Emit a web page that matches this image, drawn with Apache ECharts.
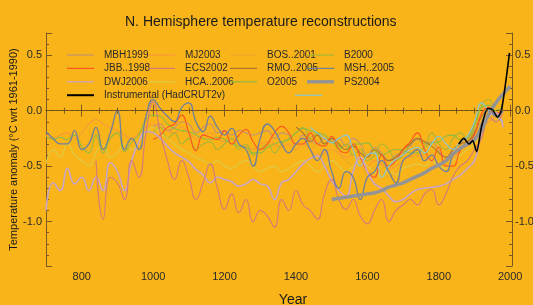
<!DOCTYPE html>
<html>
<head>
<meta charset="utf-8">
<script src="https://cdn.jsdelivr.net/npm/echarts@6/dist/echarts.min.js"></script>
<style>
html, body { margin: 0; padding: 0; background: #f9b419; }
#g-echart { width: 533px; height: 305px; }
</style>
</head>
<body>
<div id="g-echart"></div>
<script>
// sample years (20-yr steps)
var years = [700,720,740,760,780,800,820,840,860,880,900,920,940,960,980,
    1000,1020,1040,1060,1080,1100,1120,1140,1160,1180,1200,1220,1240,1260,1280,
    1300,1320,1340,1360,1380,1400,1420,1440,1460,1480,1500,1520,1540,1560,1580,
    1600,1620,1640,1660,1680,1700,1720,1740,1760,1780,1800,1820,1840,1860,1880,
    1900,1920,1940,1960,1980,2000];

// each reconstruction: values from its first year on
var mbh1999 = [-0.15,-0.12,-0.18,-0.15,-0.1,-0.12,-0.2,-0.15,-0.12,-0.2,
    -0.18,-0.22,-0.18,-0.2,-0.22,-0.2,-0.18,-0.25,-0.2,-0.22,
    -0.3,-0.22,-0.26,-0.3,-0.25,-0.28,-0.25,-0.32,-0.25,-0.3,
    -0.4,-0.33,-0.38,-0.45,-0.4,-0.38,-0.32,-0.26,-0.3,-0.28,
    -0.36,-0.42,-0.35,-0.3,-0.25,-0.18,-0.1,0.0,-0.05,0.1];
var mj2003 = [-0.22,-0.25,-0.22,-0.2,-0.25,-0.2,-0.12,-0.08,-0.12,-0.15,
    -0.18,-0.22,-0.25,-0.2,-0.15,-0.12,-0.15,-0.18,-0.2,-0.15,
    -0.2,-0.25,-0.22,-0.2,-0.25,-0.28,-0.25,-0.3,-0.32,-0.35,
    -0.3,-0.28,-0.3,-0.33,-0.3,-0.35,-0.3,-0.35,-0.4,-0.38,
    -0.35,-0.38,-0.42,-0.4,-0.45,-0.5,-0.45,-0.48,-0.52,-0.5,
    -0.45,-0.42,-0.4,-0.42,-0.45,-0.5,-0.55,-0.45,-0.35,-0.3,
    -0.25,-0.15,-0.1,-0.05,0.0];
var bos2001 = [-0.3,-0.25,-0.35,-0.3,-0.4,-0.35,-0.4,-0.45,-0.5,-0.45,
    -0.6,-0.5,-0.55,-0.6,-0.55,-0.45,-0.4,-0.35,-0.4,-0.38,
    -0.5,-0.55,-0.4,-0.3,-0.32,-0.2,-0.05,0.05,-0.1,-0.05];
var b2000 = [-0.2,-0.15,-0.25,-0.2,-0.3,-0.25,-0.35,-0.3,-0.28,-0.35,
    -0.3,-0.25,-0.35,-0.3,-0.4,-0.35,-0.3,-0.38,-0.3,-0.25,
    -0.2,-0.15,-0.25,-0.2,-0.3,-0.25,-0.35,-0.3,-0.4,-0.35,
    -0.45,-0.4,-0.3,-0.35,-0.45,-0.4,-0.3,-0.25,-0.3,-0.2,
    -0.3,-0.35,-0.25,-0.2,-0.25,-0.15,0.05,0.1,-0.05,-0.1];
var jbb1998 = [-0.26,-0.22,-0.15,-0.12,-0.04,-0.2,-0.36,-0.22,-0.24,-0.26,
    -0.18,-0.3,-0.22,-0.17,-0.28,-0.35,-0.3,-0.2,-0.14,-0.2,
    -0.3,-0.3,-0.2,-0.3,-0.32,-0.23,-0.35,-0.38,-0.3,-0.42,
    -0.55,-0.6,-0.4,-0.5,-0.45,-0.35,-0.28,-0.2,-0.35,-0.45,
    -0.33,-0.5,-0.5,-0.36,-0.3,-0.22,-0.02,0.03,-0.02,0.0];
var ecs2002 = [-0.45,-0.98,-0.6,-0.65,-0.8,-0.45,-0.6,-0.2,
    0.08,-0.2,-0.45,-0.62,-0.45,-0.6,-0.8,-0.65,-0.48,-0.7,
    -0.89,-0.75,-0.92,-0.8,-1.0,-0.9,-0.95,-1.05,-0.8,-0.9,
    -0.72,-0.85,-0.9,-0.98,-0.75,-0.62,-0.8,-0.89,-0.8,-0.95,
    -1.02,-0.9,-0.8,-1.0,-0.9,-0.85,-0.8,-0.85,-0.75,-0.71,
    -0.85,-0.75,-0.59,-0.5,-0.45,-0.35,-0.25,-0.05,-0.1,0.0];
var rmo2005 = [-0.15,-0.2,-0.28,-0.22,-0.3,-0.25,-0.3,-0.35,-0.32,-0.38,
    -0.42,-0.35,-0.4,-0.45,-0.42,-0.35,-0.3,-0.25,-0.28,-0.32,
    -0.38,-0.42,-0.35,-0.3,-0.28,-0.2,-0.05,0.0,-0.05,0.02];
var msh2005 = [-0.19,-0.25,-0.3,-0.3,-0.18,-0.35,-0.3,-0.15,-0.35,-0.2,
    0.0,-0.35,-0.25,-0.35,-0.05,0.1,0.02,-0.05,-0.1,0.03,
    0.07,-0.1,-0.19,-0.05,-0.15,-0.22,-0.16,-0.3,-0.35,-0.5,
    -0.25,-0.12,-0.18,-0.3,-0.38,-0.3,-0.25,-0.35,-0.45,-0.35,
    -0.55,-0.7,-0.55,-0.6,-0.8,-0.6,-0.55,-0.45,-0.55,-0.65,
    -0.45,-0.4,-0.35,-0.45,-0.4,-0.5,-0.55,-0.4,-0.35,-0.3,
    -0.25,-0.12,0.02,-0.05,0.0];
var dwj2006 = [-0.9,-0.65,-0.72,-0.52,-0.66,-0.6,-0.72,-0.6,-0.72,-0.47,
    -0.55,-0.72,-0.45,-0.28,-0.19,-0.2,-0.25,-0.32,-0.38,-0.42,
    -0.46,-0.53,-0.58,-0.65,-0.6,-0.62,-0.64,-0.68,-0.66,-0.62,
    -0.66,-0.68,-0.8,-0.65,-0.62,-0.55,-0.48,-0.43,-0.41,-0.5,
    -0.63,-0.72,-0.77,-0.55,-0.42,-0.55,-0.66,-0.7,-0.77,-0.82,
    -0.8,-0.75,-0.71,-0.7,-0.69,-0.68,-0.66,-0.62,-0.58,-0.52,
    -0.45,-0.2,-0.05,-0.02,-0.15];
var hca2006 = [-0.48,-0.35,-0.42,-0.3,-0.4,-0.45,-0.5,-0.38,-0.3,-0.42,
    -0.38,-0.3,-0.35,-0.28,-0.2,-0.15,-0.2,-0.25,-0.3,-0.35,
    -0.38,-0.42,-0.45,-0.48,-0.45,-0.5,-0.52,-0.48,-0.45,-0.5,
    -0.55,-0.52,-0.5,-0.55,-0.52,-0.48,-0.45,-0.5,-0.55,-0.5,
    -0.45,-0.5,-0.55,-0.5,-0.45,-0.5,-0.55,-0.6,-0.55,-0.58,
    -0.52,-0.5,-0.48,-0.5,-0.45,-0.5,-0.52,-0.45,-0.4,-0.35,
    -0.3,-0.15,-0.05,-0.1,0.0];
var o2005 = [-0.23,-0.26,-0.24,-0.26,-0.22,-0.32,-0.38,-0.22,-0.38,-0.25,
    -0.2,-0.37,-0.28,-0.22,-0.08,-0.04,-0.05,-0.12,-0.16,-0.18,
    -0.19,-0.22,-0.25,-0.26,-0.24,-0.26,-0.3,-0.32,-0.33,-0.38,
    -0.38,-0.33,-0.3,-0.28,-0.26,-0.2,-0.16,-0.18,-0.2,-0.22,
    -0.28,-0.32,-0.35,-0.3,-0.3,-0.29,-0.36,-0.4,-0.37,-0.35,
    -0.36,-0.38,-0.38,-0.33,-0.29,-0.28,-0.23,-0.22,-0.26,-0.24,
    -0.12,0.03,0.05,0.0,0.05];
var ps2004 = [-0.8,-0.79,-0.78,-0.77,-0.76,-0.75,-0.74,-0.72,-0.69,-0.67,
    -0.65,-0.62,-0.59,-0.56,-0.52,-0.49,-0.45,-0.39,-0.34,-0.3,
    -0.26,-0.17,-0.03,0.07,0.15,0.22];
var cyanRec = [-0.15,-0.2,-0.25,-0.29,-0.25,-0.22,-0.35,-0.5,-0.4,-0.38,
    -0.6,-0.5,-0.44,-0.4,-0.35,-0.33,-0.38,-0.3,-0.23,-0.3,
    -0.35,-0.28,-0.23,-0.1,0.07,0.0,-0.05,-0.1];

// instrumental record
var instYears = [1856,1870,1885,1895,1906,1920,1937,1950,1965,1975,1985,1998];
var instVals = [-0.3,-0.25,-0.3,-0.27,-0.37,-0.14,0.02,0.01,-0.06,0.0,0.2,0.52];

var yLabels = ['0.5', '0.0', '-0.5', '-1.0'];
var xLabels = [800, 1000, 1200, 1400, 1600, 1800, 2000];

function pairs(start, vals) {
    var i0 = years.indexOf(start);
    return vals.map(function (v, i) { return [years[i0 + i], v]; });
}

var axisColor = '#7a5a22';
var txtColor = '#2a2a2a';
var font = 'Liberation Sans';

var chart = echarts.init(document.getElementById('g-echart'));

function rec(name, start, vals, color, width) {
    return {
        name: name,
        type: 'line',
        smooth: 0.5,
        symbol: 'none',
        lineStyle: {width: width || 1.1, color: color},
        itemStyle: {color: color},
        data: pairs(start, vals)
    };
}

var thin = 'path://M0,0H40V1.8H0Z';
function legendBox(left, top, names) {
    return {
        orient: 'vertical',
        left: left,
        top: top,
        padding: 0,
        itemGap: 0,
        itemWidth: 27,
        itemHeight: 13.4,
        selectedMode: false,
        icon: thin,
        textStyle: {fontFamily: font, fontSize: 10, color: txtColor, lineHeight: 13.4, padding: [0, 0, 0, 5]},
        data: names
    };
}

var minorX = function (pos) {
    return {type: 'value', min: 700, max: 2005, interval: 50, position: pos,
        axisLine: {show: false}, axisTick: {inside: true, length: 3, lineStyle: {color: axisColor}},
        axisLabel: {show: false}, splitLine: {show: false}};
};
var minorY = function (pos) {
    return {type: 'value', min: -1.4, max: 0.7, interval: 0.1, position: pos,
        axisLine: {show: false}, axisTick: {inside: true, length: 3, lineStyle: {color: axisColor}},
        axisLabel: {show: false}, splitLine: {show: false}};
};
function yFmt(v) {
    var s = v.toFixed(1);
    return yLabels.indexOf(s) >= 0 ? s : '';
}
function xFmt(v) {
    return xLabels.indexOf(v) >= 0 ? String(v) : '';
}

var option = {
    animation: false,
    backgroundColor: '#f9b419',
    textStyle: {fontFamily: font},
    title: {
        text: 'N. Hemisphere temperature reconstructions',
        left: 120,
        top: 10,
        textStyle: {fontFamily: font, fontSize: 14, fontWeight: 'normal', color: '#1a1a1a'}
    },
    grid: {left: 46, right: 21, top: 33, bottom: 39, containLabel: false, outerBoundsMode: 'none'},
    legend: [
        legendBox(67, 48.3, ['MBH1999', 'JBB..1998', 'DWJ2006',
            {name: 'Instrumental (HadCRUT2v)', icon: 'path://M0,0H40V3H0Z'}]),
        legendBox(148, 48.3, ['MJ2003', 'ECS2002', 'HCA..2006']),
        legendBox(230, 48.3, ['BOS..2001', 'RMO..2005', 'O2005']),
        legendBox(307, 48.3, ['B2000', 'MSH..2005', {name: 'PS2004', icon: 'path://M0,0H40V5H0Z'}]),
        legendBox(295, 88.5, [' '])
    ],
    xAxis: [
        {type: 'value', min: 700, max: 2005, splitNumber: 6, position: 'bottom',
            axisLine: {lineStyle: {color: axisColor}},
            axisTick: {inside: true, length: 6, lineStyle: {color: axisColor}},
            axisLabel: {margin: 5, fontSize: 11, color: txtColor, formatter: xFmt},
            splitLine: {show: false},
            name: 'Year', nameLocation: 'middle', nameGap: 27, nameMoveOverlap: false,
            nameTextStyle: {fontSize: 14, color: '#1a1a1a', padding: [0, 0, 0, 28]}},
        minorX('bottom'),
        {type: 'value', min: 700, max: 2005, splitNumber: 6, position: 'top',
            axisLine: {lineStyle: {color: axisColor}},
            axisTick: {inside: true, length: 6, lineStyle: {color: axisColor}},
            axisLabel: {show: false}, splitLine: {show: false}},
        minorX('top')
    ],
    yAxis: [
        {type: 'value', min: -1.4, max: 0.7, splitNumber: 4, position: 'left',
            axisLine: {show: true, lineStyle: {color: axisColor}},
            axisTick: {show: true, inside: true, length: 6, lineStyle: {color: axisColor}},
            axisLabel: {margin: 4, fontSize: 11, color: txtColor, formatter: yFmt},
            splitLine: {show: false},
            name: 'Temperature anomaly (\u00b0C wrt 1961-1990)', nameLocation: 'middle',
            nameGap: 27, nameRotate: 90, nameMoveOverlap: false,
            nameTextStyle: {fontSize: 11, color: '#1a1a1a'}},
        minorY('left'),
        {type: 'value', min: -1.4, max: 0.7, splitNumber: 4, position: 'right',
            axisLine: {show: true, lineStyle: {color: axisColor}},
            axisTick: {show: true, inside: true, length: 6, lineStyle: {color: axisColor}},
            axisLabel: {margin: 3, fontSize: 11, color: txtColor, formatter: yFmt},
            splitLine: {show: false}},
        minorY('right')
    ],
    series: [
        rec('MBH1999', 1000, mbh1999, '#c49470'),
        rec('MJ2003', 700, mj2003, '#f79a3a'),
        rec('BOS..2001', 1400, bos2001, '#eeaa2e'),
        rec('B2000', 1000, b2000, '#a6b636'),
        rec('HCA..2006', 700, hca2006, '#dccc48'),
        rec('O2005', 700, o2005, '#92ba40'),
        rec('RMO..2005', 1400, rmo2005, '#aa7430'),
        rec('JBB..1998', 1000, jbb1998, '#ff5422'),
        rec(' ', 1440, cyanRec, '#86c6d6'),
        rec('DWJ2006', 700, dwj2006, '#c8a4c6', 1.6),
        rec('ECS2002', 840, ecs2002, '#d27a7c'),
        (function () {
            var s = rec('MSH..2005', 700, msh2005, '#6f7f9c', 1.3);
            s.markLine = {
                silent: true, symbol: ['none', 'none'], label: {show: false},
                lineStyle: {type: [2, 3], color: '#6a4a10', width: 1},
                data: [{yAxis: 0}]
            };
            return s;
        })(),
        rec('PS2004', 1500, ps2004, '#949494', 3.5),
        {
            name: 'Instrumental (HadCRUT2v)',
            type: 'line',
            smooth: 0.2,
            symbol: 'none',
            lineStyle: {width: 1.6, color: '#000'},
            itemStyle: {color: '#000'},
            data: instYears.map(function (y, i) { return [y, instVals[i]]; })
        }
    ]
};

chart.setOption(option);
</script>
</body>
</html>
